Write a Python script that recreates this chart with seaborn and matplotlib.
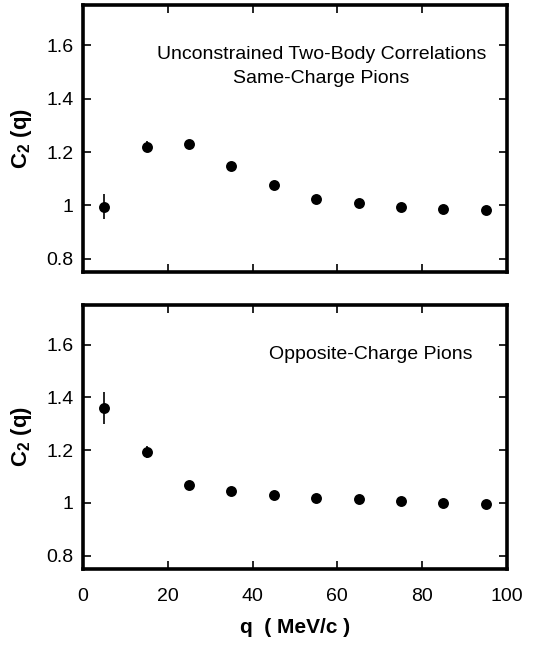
import matplotlib
matplotlib.use("Agg")
import matplotlib.pyplot as plt
import seaborn as sns
import pandas as pd

q = [5, 15, 25, 35, 45, 55, 65, 75, 85, 95]
c2_same = [0.995, 1.220, 1.229, 1.147, 1.078, 1.024, 1.009, 0.995, 0.988, 0.984]
err_same = [0.047, 0.020, 0.010, 0.008, 0.006, 0.005, 0.004, 0.004, 0.004, 0.004]
c2_opp = [1.361, 1.193, 1.068, 1.046, 1.030, 1.020, 1.015, 1.007, 1.000, 0.997]
err_opp = [0.060, 0.022, 0.010, 0.008, 0.006, 0.005, 0.004, 0.004, 0.004, 0.004]
yticks = [0.8, 1.0, 1.2, 1.4, 1.6]
ytick_labels = ["0.8", "1", "1.2", "1.4", "1.6"]
xticks = [0, 20, 40, 60, 80, 100]
xtick_labels = ["0", "20", "40", "60", "80", "100"]

sns.set_style("ticks")
plt.rcParams["font.family"] = ["Liberation Sans", "DejaVu Sans"]
plt.rcParams["mathtext.fontset"] = "custom"
plt.rcParams["mathtext.rm"] = "Liberation Sans:bold"
plt.rcParams["mathtext.bf"] = "Liberation Sans:bold"
plt.rcParams["mathtext.default"] = "bf"
plt.rcParams["text.color"] = "black"
plt.rcParams["axes.labelcolor"] = "black"
plt.rcParams["xtick.color"] = "black"
plt.rcParams["ytick.color"] = "black"

fig = plt.figure(figsize=(5.57, 6.45), dpi=100)
ax1 = fig.add_axes([0.149, 0.578, 0.761, 0.414])
ax2 = fig.add_axes([0.149, 0.118, 0.761, 0.409])

panels = [
    (ax1, c2_same, err_same),
    (ax2, c2_opp, err_opp),
]
for ax, vals, errs in panels:
    df = pd.DataFrame({"q": q, "c2": vals, "err": errs})
    ax.errorbar(df["q"], df["c2"], yerr=df["err"], fmt="none", ecolor="black",
                elinewidth=1.2, capsize=0, zorder=2)
    sns.scatterplot(data=df, x="q", y="c2", ax=ax, color="black", s=62,
                    edgecolor="black", linewidth=0, zorder=3, legend=False)
    ax.set_xlim(0, 100)
    ax.set_ylim(0.75, 1.75)
    ax.set_yticks(yticks)
    ax.set_yticklabels(ytick_labels)
    ax.set_xticks(xticks)
    ax.tick_params(direction="in", length=6, width=1.2, top=True, right=True,
                   labelsize=14, colors="black")
    ax.tick_params(axis="y", pad=7)
    ax.tick_params(axis="x", pad=14)
    for sp in ax.spines.values():
        sp.set_linewidth(2.6)
        sp.set_color("black")
    ax.set_ylabel(r"C$_2$ (q)", fontsize=16, fontweight="bold", labelpad=9)
    ax.set_xlabel("")

ax1.set_xticklabels([])
ax2.set_xticklabels(xtick_labels)
ax2.set_xlabel("q  ( MeV/c )", fontsize=15, fontweight="bold", labelpad=9)

ax1.text(56.3, 1.566, "Unconstrained Two-Body Correlations", ha="center", va="center",
         fontsize=14)
ax1.text(56.3, 1.477, "Same-Charge Pions", ha="center", va="center", fontsize=14)
ax2.text(68, 1.561, "Opposite-Charge Pions", ha="center", va="center", fontsize=14)

fig.savefig("out.png", dpi=100)
